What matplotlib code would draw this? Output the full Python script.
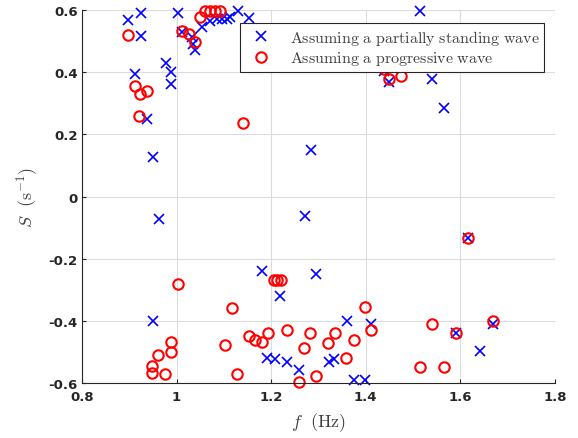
import numpy as np
import matplotlib
matplotlib.use("Agg")
import matplotlib.pyplot as plt

plt.rcParams["mathtext.fontset"] = "cm"

# partially standing wave (blue x)
f_stand = [0.898, 0.924, 0.924, 0.912, 0.937, 0.950, 0.977, 0.988, 0.988, 1.002,
           1.012, 1.032, 1.035, 1.039, 1.053, 1.071, 1.085, 1.096, 1.106, 1.113,
           1.129, 1.154, 1.284, 1.438, 1.450, 1.515, 1.540, 1.565, 0.963, 0.950,
           1.271, 1.180, 1.295, 1.219, 1.360, 1.411, 1.192, 1.208, 1.233, 1.259,
           1.323, 1.333, 1.374, 1.399, 1.616, 1.591, 1.669, 1.642]
s_stand = [0.569, 0.590, 0.516, 0.393, 0.248, 0.128, 0.429, 0.400, 0.361, 0.589,
           0.528, 0.512, 0.491, 0.470, 0.545, 0.566, 0.571, 0.571, 0.571, 0.577,
           0.598, 0.574, 0.151, 0.405, 0.368, 0.596, 0.378, 0.286, -0.072, -0.401,
           -0.062, -0.239, -0.249, -0.319, -0.401, -0.409, -0.519, -0.521, -0.531, -0.558,
           -0.531, -0.521, -0.590, -0.590, -0.132, -0.438, -0.410, -0.497]

# progressive wave (red o)
f_prog = [0.898, 0.912, 0.937, 0.923, 0.921, 1.141, 1.011, 1.027, 1.039, 1.050,
          1.060, 1.071, 1.081, 1.092, 1.438, 1.450, 1.475, 1.641, 1.002, 1.117,
          1.103, 1.127, 1.152, 0.988, 0.988, 0.961, 0.947, 0.947, 0.976, 1.205,
          1.213, 1.220, 1.399, 1.411, 1.166, 1.180, 1.194, 1.233, 1.283, 1.335,
          1.321, 1.374, 1.270, 1.359, 1.295, 1.258, 1.616, 1.540, 1.591, 1.669,
          1.514, 1.565]
s_prog = [0.518, 0.357, 0.339, 0.329, 0.259, 0.238, 0.534, 0.523, 0.496, 0.579,
          0.598, 0.598, 0.598, 0.598, 0.411, 0.379, 0.389, 0.421, -0.280, -0.358,
          -0.476, -0.569, -0.449, -0.467, -0.499, -0.508, -0.545, -0.567, -0.569, -0.268,
          -0.268, -0.268, -0.356, -0.428, -0.460, -0.468, -0.438, -0.428, -0.438, -0.438,
          -0.471, -0.460, -0.487, -0.519, -0.577, -0.597, -0.132, -0.410, -0.438, -0.401,
          -0.547, -0.547]

xticks = [0.8, 1.0, 1.2, 1.4, 1.6, 1.8]
xticklabels = ["0.8", "1", "1.2", "1.4", "1.6", "1.8"]
yticks = [-0.6, -0.4, -0.2, 0.0, 0.2, 0.4, 0.6]
yticklabels = ["-0.6", "-0.4", "-0.2", "0", "0.2", "0.4", "0.6"]

fig = plt.figure(figsize=(5.78, 4.39), dpi=100)
ax = fig.add_axes([0.1419, 0.1246, 0.8183, 0.8504])

ax.plot(f_stand, s_stand, "x", color="blue", ms=7, mew=1.2, clip_on=False,
        label=r"$\mathrm{Assuming\ a\ partially\ standing\ wave}$")
ax.plot(f_prog, s_prog, "o", color="red", mfc="none", ms=7.5, mew=1.5, clip_on=False,
        label=r"$\mathrm{Assuming\ a\ progressive\ wave}$")

ax.set_xlim(0.8, 1.8)
ax.set_ylim(-0.6, 0.6)
ax.set_xticks(xticks)
ax.set_xticklabels(xticklabels, fontweight="bold", fontsize=9.5, color="#262626")
ax.set_yticks(yticks)
ax.set_yticklabels(yticklabels, fontweight="bold", fontsize=9.5, color="#262626")
ax.tick_params(direction="in", length=3, width=0.8, color="#262626")
ax.tick_params(axis="x", pad=5)
ax.tick_params(axis="y", pad=3)
ax.grid(True, color="#dcdcdc", lw=0.8)
ax.set_axisbelow(True)
for side in ["top", "right"]:
    ax.spines[side].set_visible(False)
for side in ["left", "bottom"]:
    ax.spines[side].set_color("#262626")
    ax.spines[side].set_linewidth(0.8)

ax.set_xlabel(r"$f\ \ \mathrm{(Hz)}$", fontsize=13, color="#404040", labelpad=5)
ax.set_ylabel(r"$S\ \ \mathrm{(s^{-1})}$", fontsize=13, color="#404040", labelpad=6)

leg = ax.legend(loc="upper right", bbox_to_anchor=(0.977, 0.965), borderaxespad=0,
                fontsize=11.5, frameon=True, fancybox=False, edgecolor="#262626",
                framealpha=1, borderpad=0.3, handletextpad=0.8, labelspacing=0.15,
                handlelength=2.0)
leg.get_frame().set_linewidth(0.8)
for t in leg.get_texts():
    t.set_color("#404040")

fig.savefig("out.png", dpi=100)
